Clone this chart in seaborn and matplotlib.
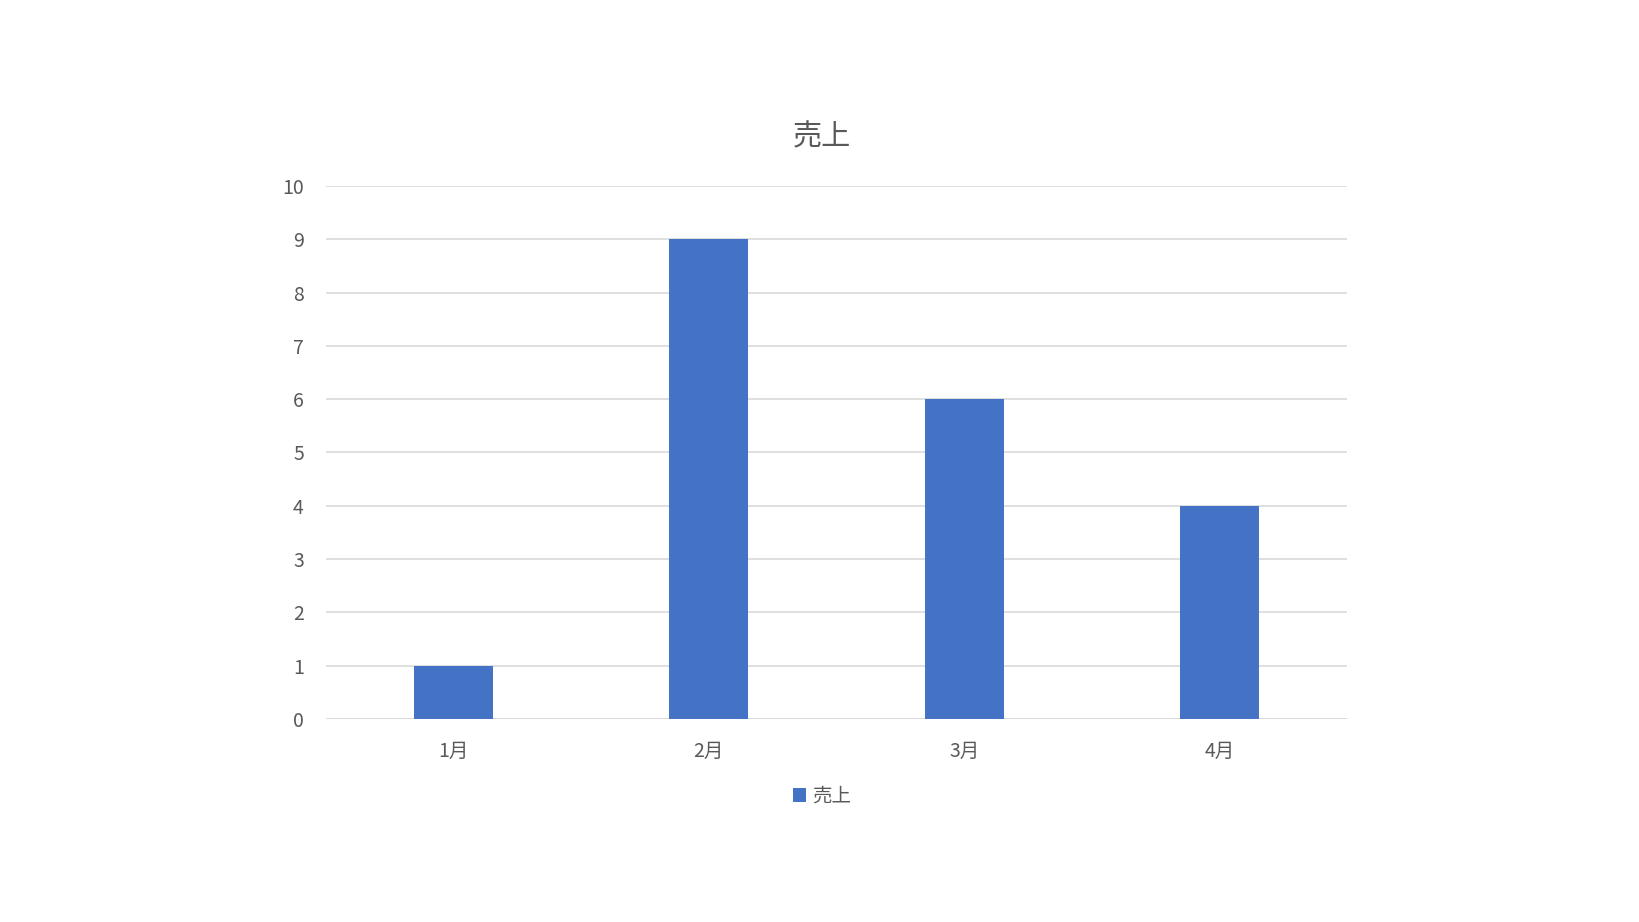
import pandas as pd
import seaborn as sns
import matplotlib.pyplot as plt

# Data
months = ['1月', '2月', '3月', '4月']
sales = [1, 9, 6, 4]
series_name = '売上'
y_ticks = list(range(0, 11))

bar_color = '#4472C4'
text_color = '#595959'
grid_color = '#D9D9D9'

sns.set_style("white")
plt.rcParams['font.family'] = ['Noto Sans CJK JP', 'DejaVu Sans']

df = pd.DataFrame({'month': months, 'value': sales})

fig = plt.figure(figsize=(16.39, 9.22), dpi=100)
ax = fig.add_axes([0.1989, 0.2202, 0.6229, 0.5781])

sns.barplot(data=df, x='month', y='value', color=bar_color, saturation=1.0,
            width=0.31, label=series_name, linewidth=0, ax=ax, zorder=3)

ax.set_ylim(0, 10)
ax.set_xlim(-0.5, len(months) - 0.5)
ax.set_yticks(y_ticks)
ax.yaxis.grid(True, color=grid_color, linewidth=1.2, zorder=0)
ax.set_axisbelow(True)
sns.despine(ax=ax, left=True, bottom=True)
ax.axhline(0, color=grid_color, linewidth=1.2, zorder=1)

ax.tick_params(axis='both', length=0, labelsize=14, colors=text_color)
ax.tick_params(axis='y', pad=16)
ax.tick_params(axis='x', pad=16)
ax.set_xlabel('')
ax.set_ylabel('')

# Legend below the plot (drop the one seaborn puts inside the axes)
handles, labels = ax.get_legend_handles_labels()
if ax.get_legend() is not None:
    ax.get_legend().remove()
fig.legend(handles, labels, loc='center', bbox_to_anchor=(0.5015, 1 - 796 / 922),
           frameon=False, fontsize=14, labelcolor=text_color,
           handlelength=0.7, handleheight=0.7, handletextpad=0.3)

# Title
fig.text(0.5015, 1 - 137 / 922, series_name, ha='center', va='center',
         fontsize=21, color=text_color)

plt.savefig('out.png', dpi=100)
plt.close()
